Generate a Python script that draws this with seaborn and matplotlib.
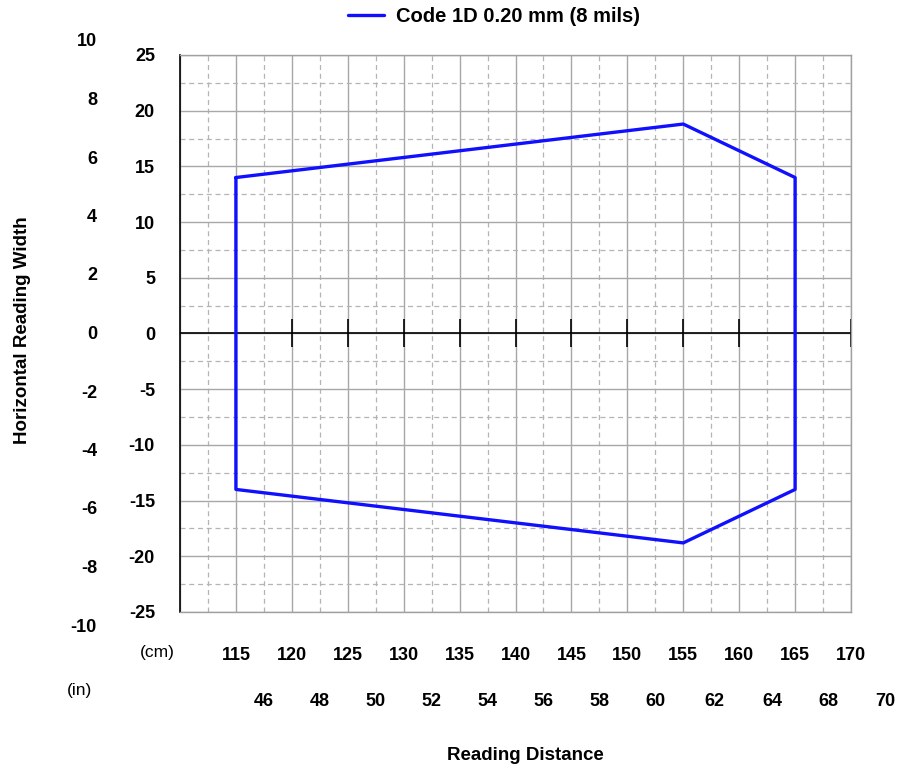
import numpy as np
import pandas as pd
import matplotlib.pyplot as plt
import seaborn as sns

# reading zone data (cm)
distance_cm = [115, 155, 165, 165, 155, 115, 115]
width_cm = [14, 18.8, 14, -14, -18.8, -14, 14]

cm_ticks = [115, 120, 125, 130, 135, 140, 145, 150, 155, 160, 165, 170]
y_ticks = [25, 20, 15, 10, 5, 0, -5, -10, -15, -20, -25]
inch_x_labels = ["46", "48", "50", "52", "54", "56", "58", "60", "62", "64", "68", "70"]
inch_x_pos = [117.5, 122.5, 127.5, 132.5, 137.5, 142.5, 147.5, 152.5, 157.8, 163.0, 168.0, 173.1]
inch_y_labels = ["10", "8", "6", "4", "2", "0", "-2", "-4", "-6", "-8", "-10"]

sns.set_style("white")
plt.rcParams['font.family'] = ['Liberation Sans', 'DejaVu Sans']
plt.rcParams['font.weight'] = 'bold'
plt.rcParams['text.color'] = 'black'
plt.rcParams['xtick.color'] = 'black'
plt.rcParams['ytick.color'] = 'black'

fig = plt.figure(figsize=(9.04, 7.69), dpi=100)
ax = fig.add_axes([0.1991, 0.2042, 0.7423, 0.7243])

df = pd.DataFrame({'x': distance_cm, 'y': width_cm})

# grid
for v in np.arange(110, 170.1, 5):
    ax.axvline(v, color='#a8a8a8', lw=1.0, zorder=0)
for v in np.arange(112.5, 170, 5):
    ax.axvline(v, color='#b4b4b4', lw=0.9, ls=(0, (4, 3)), zorder=0)
for v in np.arange(-25, 25.1, 5):
    ax.axhline(v, color='#a8a8a8', lw=1.0, zorder=0)
for v in np.arange(-22.5, 25, 5):
    ax.axhline(v, color='#b4b4b4', lw=0.9, ls=(0, (4, 3)), zorder=0)

# zero axis with ticks
ax.axhline(0, color='black', lw=1.2, zorder=1)
ax.plot(cm_ticks, [0] * len(cm_ticks), ls='none', marker='|', ms=20,
        mew=1.2, color='black', zorder=1)

sns.lineplot(data=df, x='x', y='y', sort=False, estimator=None, color='#1010ff',
             lw=2.4, ax=ax, label='Code 1D 0.20 mm (8 mils)', zorder=3)

ax.set_xlim(110, 170)
ax.set_ylim(-25, 25)

ax.set_yticks(y_ticks)
ax.set_yticklabels([str(t) for t in y_ticks], fontsize=13, fontweight='bold')
ax.tick_params(axis='y', length=12, width=1, color='black', pad=6)

ax.set_xticks(cm_ticks)
ax.set_xticklabels([str(t) for t in cm_ticks], fontsize=13, fontweight='bold')
ax.tick_params(axis='x', length=0, pad=25)

for s in ['top', 'right', 'bottom']:
    ax.spines[s].set_color('#a0a0a0')
    ax.spines[s].set_linewidth(1.0)
ax.spines['left'].set_color('black')
ax.spines['left'].set_linewidth(1.2)

ax.set_xlabel('')
ax.set_ylabel('')

# unit labels and inch scales
fig.text(157 / 904, 1 - 653 / 769, '(cm)', fontsize=12.5, fontweight='normal',
         ha='center', va='center')
fig.text(80 / 904, 1 - 690 / 769, '(in)', fontsize=12.5, fontweight='normal',
         ha='center', va='center')
for lab, xp in zip(inch_x_labels, inch_x_pos):
    ax.text(xp, -33.0, lab, fontsize=13, fontweight='bold', ha='center',
            va='center', clip_on=False)
for i, lab in enumerate(inch_y_labels):
    yp = 42 + i * 58.5
    fig.text(97 / 904, 1 - yp / 769, lab, fontsize=13, fontweight='bold',
             ha='right', va='center')

fig.text(23 / 904, 1 - 330 / 769, 'Horizontal Reading Width', rotation=90,
         fontsize=13.5, fontweight='bold', ha='center', va='center')
fig.text(525 / 904, 1 - 755 / 769, 'Reading Distance', fontsize=13.5,
         fontweight='bold', ha='center', va='center')

leg = ax.legend(loc='center', bbox_to_anchor=(494 / 904, 1 - 17 / 769),
                bbox_transform=fig.transFigure, frameon=False,
                prop={'weight': 'bold', 'size': 14.5}, handlelength=1.8,
                handletextpad=0.6)

fig.savefig('out.png', dpi=100)
